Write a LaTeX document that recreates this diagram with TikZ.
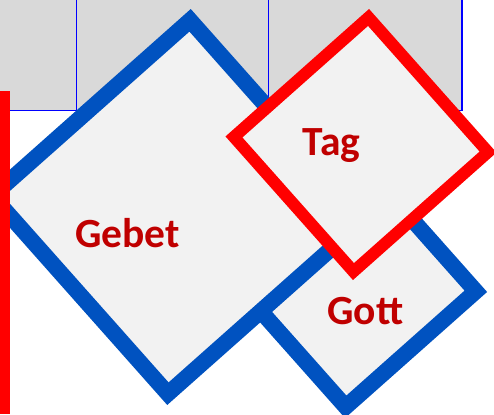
\documentclass[tikz,border=0pt]{standalone}
\usepackage{fontspec}
\setmainfont{Carlito}
\definecolor{boxblue}{RGB}{0,82,192}
\definecolor{lightfill}{RGB}{242,242,242}
\definecolor{panelgray}{RGB}{217,217,217}
\definecolor{textred}{RGB}{192,0,0}
\definecolor{barred}{RGB}{255,0,0}
\tikzset{
  panel/.style={fill=panelgray, draw=blue, line width=1.6pt},
  diamondbox/.style={rectangle, fill=lightfill, inner sep=0pt, rotate=41.6},
  bluebox/.style={diamondbox, draw=boxblue, line width=16pt},
  redbox/.style={diamondbox, draw=barred, line width=12pt},
  word/.style={text=textred, font=\bfseries\fontsize{41.5}{50}\selectfont, inner sep=0pt, anchor=base}
}
\begin{document}
\begin{tikzpicture}[x=1pt,y=-1pt]
\useasboundingbox (0,0) rectangle (494,414);
\clip (0,0) rectangle (494,414);
% panels
\draw[panel] (-20,-20) rectangle (76.5,110.5);
\draw[panel] (76.5,-20) rectangle (268.3,110.5);
\draw[panel] (268.3,-20) rectangle (461.7,110.5);
% diamonds
\node[bluebox, minimum size=174pt] (gott) at (353,284) {};
\node[bluebox, minimum size=264.5pt] (gebet) at (179,207) {};
\node[redbox, minimum size=180pt] (tag) at (361,144.5) {};
% labels
\node[word] (gebettext) at (127.5,247) {Gebet};
\node[word] (tagtext) at (331.5,155) {Tag};
\node[word] (gotttext) at (365.5,324) {Gott};
% red bar
\fill[barred] (0,90.7) rectangle (9.5,414);
\end{tikzpicture}
\end{document}
